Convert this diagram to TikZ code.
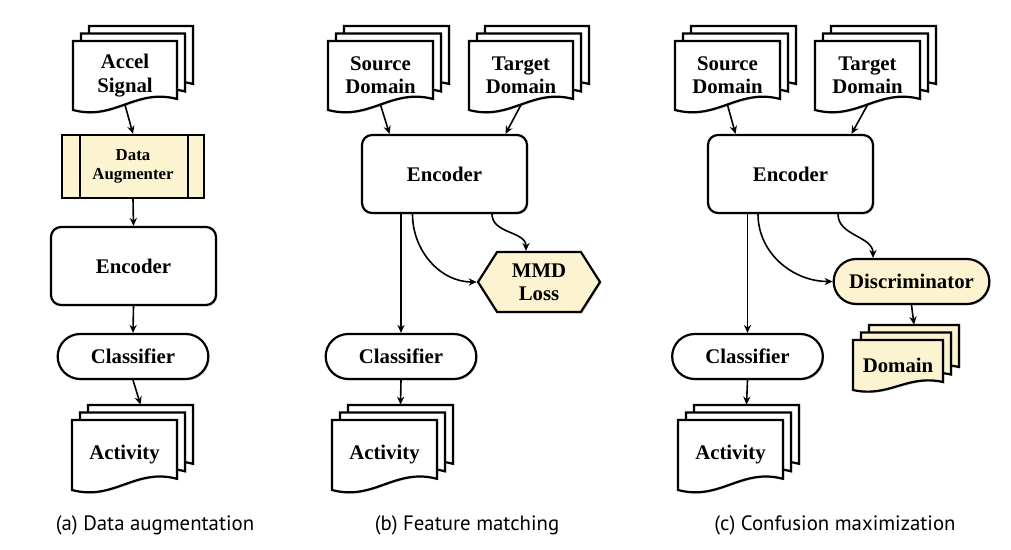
\documentclass[tikz,border=0pt]{standalone}
\usepackage{fontspec}
\setmainfont{Liberation Serif}
\newfontfamily\capfont{PT Sans}
\usetikzlibrary{positioning,shapes.misc,shapes.symbols,arrows.meta,shadows}

\definecolor{augyellow}{RGB}{252,243,208}

\newcommand{\nodefont}{\fontsize{10.4}{11.6}\selectfont\bfseries}

\newcommand{\docstack}[7][white]{%
  \pgfmathsetmacro\wv{0.16*(#6-#4)}
  \foreach \d in {2,1,0}{
    \filldraw[sheet, fill=#1, shift={(8*\d,-7.5*\d)}]
      (#3,#4) -- (#5,#4) -- (#5,{#6-\wv})
      .. controls ({#3+0.6*(#5-#3)},{#6-2*\wv}) and ({#3+0.4*(#5-#3)},{#6+\wv}) .. (#3,#6) -- cycle;
  }
  \node[docnode, minimum width={(#5-#3)*0.5pt}, minimum height={(#6-\wv-#4)*0.5pt}]
    (#2) at ({(#3+#5)/2},{(#4+#6)/2}) {#7};
}

\tikzset{
  shade/.style={drop shadow={shadow xshift=0.7pt,shadow yshift=-0.7pt,opacity=0.35}},
  sheet/.style={draw, line width=1.1pt, shade},
  docnode/.style={inner sep=0pt, font=\nodefont, align=center},
  encbox/.style={draw, line width=1.1pt, fill=white, rounded corners=5pt,
    minimum width=82.5pt, minimum height=39pt, font=\nodefont, shade},
  clsbox/.style={rounded rectangle, draw, line width=1.1pt, fill=white,
    minimum width=82pt, minimum height=22.5pt, font=\nodefont, shade},
  augbox/.style={rectangle, draw, line width=1.1pt, fill=augyellow,
    minimum width=71pt, minimum height=31.5pt, align=center, shade,
    font={\fontsize{8.4}{9.5}\selectfont\bfseries},
    path picture={\draw[line width=1.1pt]
      ([xshift=9pt]path picture bounding box.north west) -- ([xshift=9pt]path picture bounding box.south west)
      ([xshift=-8pt]path picture bounding box.north east) -- ([xshift=-8pt]path picture bounding box.south east);}},
  hexbox/.style={signal, signal to=east and west, signal pointer angle=115, draw,
    line width=1.1pt, fill=augyellow, minimum width=61pt, minimum height=30pt,
    inner sep=0pt, font=\nodefont, align=center, shade},
  arr/.style={-{Stealth[length=4pt,width=3.6pt]}, line width=0.8pt},
  captext/.style={font={\capfont\fontsize{10.4}{12}\selectfont}}
}

\begin{document}
\begin{tikzpicture}[x=0.5pt, y=-0.5pt]
  \useasboundingbox (0,0) rectangle (1011,550);

  \docstack{acca}{73}{41}{177}{110}{Accel\\Signal}
  \node[augbox] (aug) at (133,166.5) {Data\\Augmenter};
  \node[encbox] (enca) at (133.5,266) {Encoder};
  \node[clsbox] (clsa) at (133,356.5) {Classifier};
  \docstack{acta}{72}{420}{177}{490}{Activity}
  \draw[arr] (acca.south) -- (aug.north);
  \draw[arr] (aug.south) -- (enca.north);
  \draw[arr] (enca.south) -- (clsa.north);
  \draw[arr] (clsa.south) -- ([shift={(8pt,10.3pt)}]acta.north);

  \docstack{srcb}{328}{41}{433}{110}{Source\\Domain}
  \docstack{tgtb}{469}{41}{573}{110}{Target\\Domain}
  \node[encbox] (encb) at (444.5,174) {Encoder};
  \node[clsbox] (clsb) at (401,356.5) {Classifier};
  \node[hexbox] (mmd) at (539,282) {MMD\\Loss};
  \docstack{actb}{332}{420}{437}{490}{Activity}
  \draw[arr] (srcb.south) -- ([xshift=-27.5pt]encb.north);
  \draw[arr] (tgtb.south) -- ([xshift=30.5pt]encb.north);
  \draw[arr] (encb.south -| clsb.north) -- (clsb.north);
  \draw[arr] ([xshift=-16pt]encb.south) to[out=-90,in=180] (mmd.west);
  \draw[arr] ([xshift=23.75pt]encb.south) to[out=-90,in=90] ([xshift=-6.5pt]mmd.north);
  \draw[arr] (clsb.south) -- ([shift={(8pt,10.3pt)}]actb.north);

  \docstack{srcc}{675}{41}{780}{110}{Source\\Domain}
  \docstack{tgtc}{815}{41}{920}{110}{Target\\Domain}
  \node[encbox] (encc) at (790.5,174) {Encoder};
  \node[clsbox] (clsc) at (747.5,356.5) {Classifier};
  \node[clsbox, fill=augyellow, minimum width=84.5pt] (disc) at (911.5,281.5) {Discriminator};
  \docstack[augyellow]{domc}{853}{340}{943}{390}{Domain}
  \docstack{actc}{678}{420}{783}{490}{Activity}
  \draw[arr] (srcc.south) -- ([xshift=-27.5pt]encc.north);
  \draw[arr] (tgtc.south) -- ([xshift=30.5pt]encc.north);
  \draw[arr] (encc.south -| clsc.north) -- (clsc.north);
  \draw[arr] ([xshift=-16.25pt]encc.south) to[out=-90,in=180] (disc.west);
  \draw[arr] ([xshift=23.75pt]encc.south) to[out=-90,in=90] ([xshift=-19.25pt]disc.north);
  \draw[arr] (disc.south) -- ([shift={(8pt,9.5pt)}]domc.north);
  \draw[arr] (clsc.south) -- ([shift={(8pt,10.3pt)}]actc.north);

  \node[captext] (capa) at (155,525) {(a) Data augmentation};
  \node[captext] (capb) at (467,525) {(b) Feature matching};
  \node[captext] (capc) at (835,525) {(c) Confusion maximization};
\end{tikzpicture}
\end{document}
